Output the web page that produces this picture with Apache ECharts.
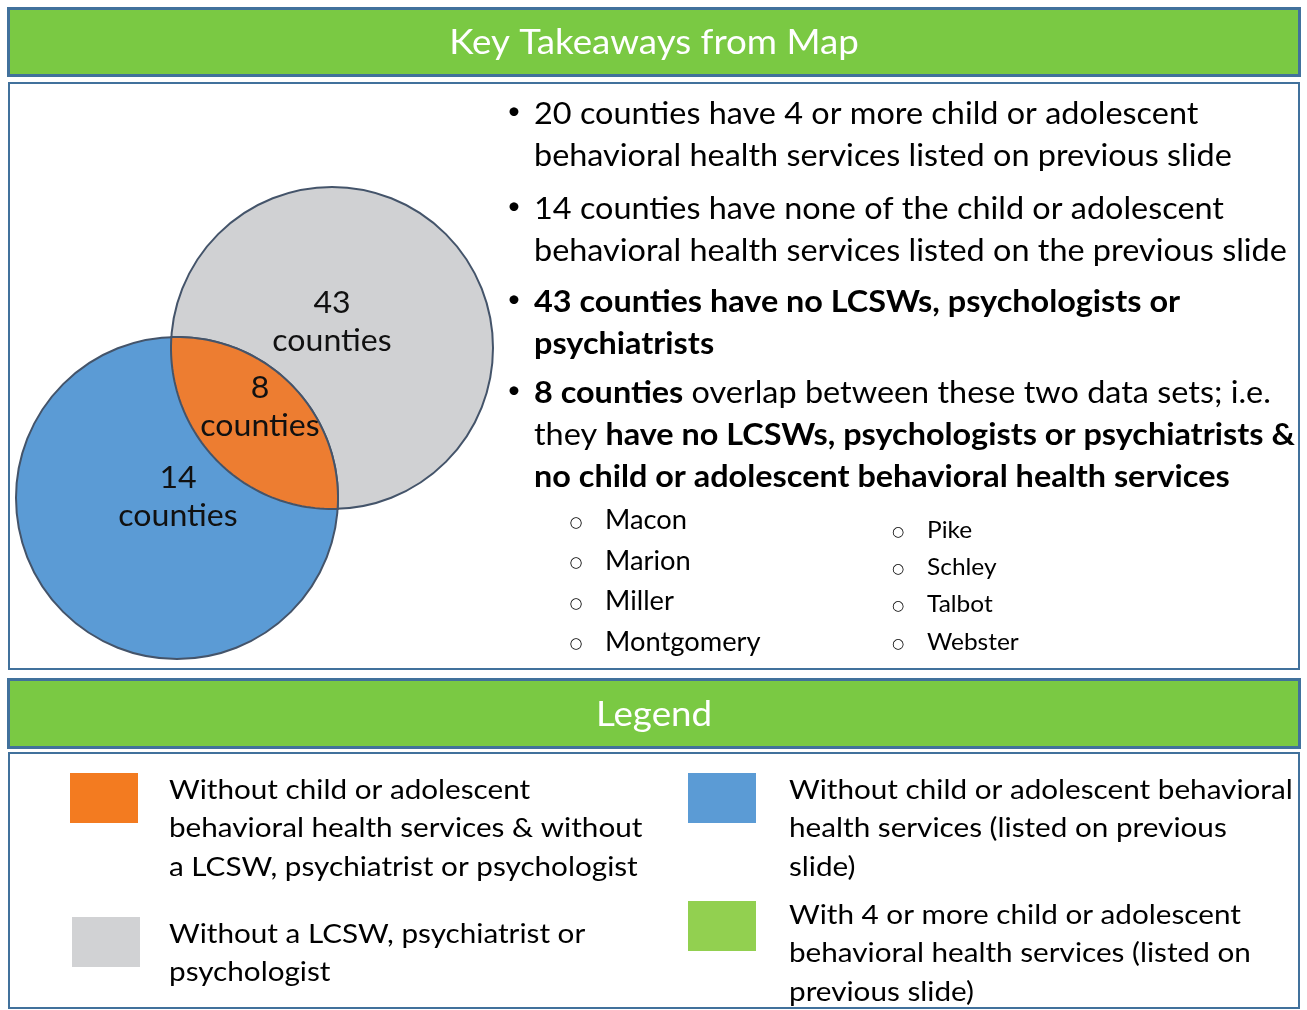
<!DOCTYPE html>
<html>
<head>
<meta charset="utf-8">
<script src="https://cdn.jsdelivr.net/npm/echarts@6/dist/echarts.min.js"></script>
<style>
html, body { margin: 0; padding: 0; background: #fff; }
#main { width: 1307px; height: 1010px; }
</style>
</head>
<body>
<div id="main"></div>
<script>
// venn data
const vennNames = ['Without a LCSW, psychiatrist or psychologist', 'Without child or adolescent behavioral health services', 'Both'];
const vennCounts = [43, 14, 8];

// text content
const headerTitle = 'Key Takeaways from Map';
const legendTitle = 'Legend';
const bullets = [
  ['20 counties have 4 or more child or adolescent', 'behavioral health services listed on previous slide'],
  ['14 counties have none of the child or adolescent', 'behavioral health services listed on the previous slide'],
  ['{b|43 counties have no LCSWs, psychologists or}', '{b|psychiatrists}'],
  ['{b|8 counties} overlap between these two data sets; i.e.', 'they {b|have no LCSWs, psychologists or psychiatrists &}', '{b|no child or adolescent behavioral health services}']
];
const countiesLeft = ['Macon', 'Marion', 'Miller', 'Montgomery'];
const countiesRight = ['Pike', 'Schley', 'Talbot', 'Webster'];
const legendItems = [
  'Without child or adolescent\nbehavioral health services & without\na LCSW, psychiatrist or psychologist',
  'Without a LCSW, psychiatrist or\npsychologist',
  'Without child or adolescent behavioral\nhealth services (listed on previous\nslide)',
  'With 4 or more child or adolescent\nbehavioral health services (listed on\nprevious slide)'
];

// layout / styles
const FONT = 'Lato, "Open Sans", sans-serif';
const vennColors = ['#D0D1D3', '#5B9BD5', '#ED7D31'];
const legendColors = ['#F37B20', '#D1D2D4', '#5B9BD5', '#92D050'];
const venn = { gray: [332, 348], blue: [177, 498], r: 161 };
const vennLabelPos = [[332, 322], [178, 497], [260, 407]];
const bulletTops = [93, 188, 281, 372];
const legendPos = [[70, 773, 169, 771], [72, 917, 169, 915], [688, 773, 789, 771], [688, 901, 789, 896]];

const chart = echarts.init(document.getElementById('main'));

function renderVenn(params, api) {
  const i = params.dataIndex;
  const g = api.coord(venn.gray);
  const b = api.coord(venn.blue);
  const r = api.size([venn.r, venn.r])[0];
  const lp = api.coord(vennLabelPos[i]);
  let shape;
  if (i < 2) {
    const c = i === 0 ? g : b;
    shape = {
      type: 'circle',
      shape: { cx: c[0], cy: c[1], r: r },
      style: { fill: vennColors[i], stroke: '#44546A', lineWidth: 2 }
    };
  } else {
    // lens = intersection of the two circles
    const d = Math.hypot(g[0] - b[0], g[1] - b[1]);
    const alpha = Math.acos(d / 2 / r);
    const pts = [];
    const arc = function (c, o) {
      const t0 = Math.atan2(o[1] - c[1], o[0] - c[0]);
      for (let k = 0; k <= 60; k++) {
        const t = t0 - alpha + (2 * alpha * k) / 60;
        pts.push([c[0] + r * Math.cos(t), c[1] + r * Math.sin(t)]);
      }
    };
    arc(b, g);
    arc(g, b);
    shape = {
      type: 'polygon',
      shape: { points: pts },
      style: { fill: vennColors[2], stroke: '#44546A', lineWidth: 2 }
    };
  }
  return {
    type: 'group',
    children: [
      shape,
      {
        type: 'text',
        x: lp[0],
        y: lp[1],
        scaleX: 1.07,
        z2: 100,
        style: {
          text: vennCounts[i] + '\ncounties',
          fill: '#111',
          font: '30px ' + FONT,
          lineHeight: 38,
          align: 'center',
          verticalAlign: 'middle'
        }
      }
    ]
  };
}

const graphics = [];
// header bars and boxes
graphics.push(
  { type: 'rect', shape: { x: 8.5, y: 8.5, width: 1291, height: 67 }, style: { fill: '#7AC943', stroke: '#41719C', lineWidth: 3 } },
  { type: 'text', x: 654, y: 43, scaleX: 1.08, style: { text: headerTitle, fill: '#fff', font: '34px ' + FONT, align: 'center', verticalAlign: 'middle' } },
  { type: 'rect', shape: { x: 9, y: 83, width: 1290, height: 586 }, style: { fill: 'none', stroke: '#41719C', lineWidth: 2 } },
  { type: 'rect', shape: { x: 8.5, y: 679.5, width: 1291, height: 68 }, style: { fill: '#7AC943', stroke: '#41719C', lineWidth: 3 } },
  { type: 'text', x: 654, y: 715, scaleX: 1.08, style: { text: legendTitle, fill: '#fff', font: '34px ' + FONT, align: 'center', verticalAlign: 'middle' } },
  { type: 'rect', shape: { x: 9, y: 753, width: 1290, height: 255 }, style: { fill: 'none', stroke: '#41719C', lineWidth: 2 } }
);

bullets.forEach(function (lines, i) {
  graphics.push({ type: 'text', x: 514, y: bulletTops[i] + 18, style: { text: '•', fill: '#000', font: '24px ' + FONT, align: 'center', verticalAlign: 'middle' } });
  graphics.push({
    type: 'text', x: 534, y: bulletTops[i], scaleX: 1.08,
    style: {
      text: lines.join('\n'), fill: '#000', font: '30px ' + FONT, lineHeight: 42, verticalAlign: 'top',
      rich: { b: { fontWeight: 'bold', fontSize: 30, fontFamily: FONT, lineHeight: 42 } }
    }
  });
});

countiesLeft.forEach(function (name, i) {
  const y = 521 + i * 40.5;
  graphics.push({ type: 'text', x: 576, y: y + 2, style: { text: '○', fill: '#000', font: '15px "DejaVu Sans"', align: 'center', verticalAlign: 'middle' } });
  graphics.push({ type: 'text', x: 605, y: y, scaleX: 1.05, style: { text: name, fill: '#000', font: '26px ' + FONT, verticalAlign: 'middle' } });
});
countiesRight.forEach(function (name, i) {
  const y = 530 + i * 37.3;
  graphics.push({ type: 'text', x: 898, y: y + 2, style: { text: '○', fill: '#000', font: '14px "DejaVu Sans"', align: 'center', verticalAlign: 'middle' } });
  graphics.push({ type: 'text', x: 927, y: y, scaleX: 1.02, style: { text: name, fill: '#000', font: '24px ' + FONT, verticalAlign: 'middle' } });
});

legendItems.forEach(function (txt, i) {
  const p = legendPos[i];
  graphics.push({ type: 'rect', shape: { x: p[0], y: p[1], width: 68, height: 50 }, style: { fill: legendColors[i] } });
  graphics.push({ type: 'text', x: p[2], y: p[3], scaleX: 1.12, style: { text: txt, fill: '#000', font: '26.5px ' + FONT, lineHeight: 38.5, verticalAlign: 'top' } });
});

chart.setOption({
  backgroundColor: '#fff',
  animation: false,
  grid: { left: 0, right: 0, top: 0, bottom: 0 },
  xAxis: { type: 'value', min: 0, max: 1307, show: false },
  yAxis: { type: 'value', min: 0, max: 1010, inverse: true, show: false },
  graphic: graphics,
  series: [{
    type: 'custom',
    name: 'Venn',
    z: 10,
    renderItem: renderVenn,
    data: vennCounts.map(function (v, i) { return { name: vennNames[i], value: [i, v] }; })
  }]
});
</script>
</body>
</html>
